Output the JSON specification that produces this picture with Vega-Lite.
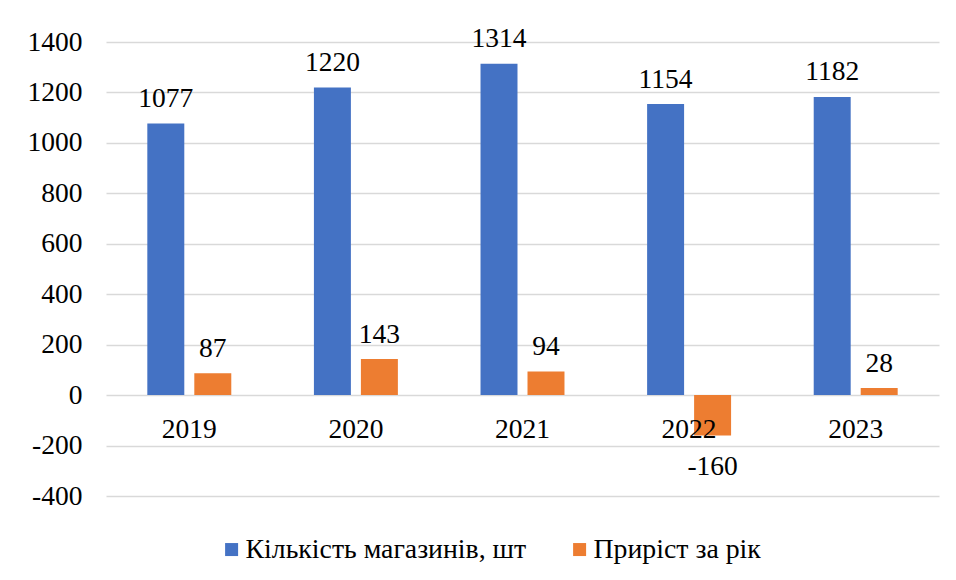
{
  "$schema": "https://vega.github.io/schema/vega-lite/v6.json",
  "autosize": "none",
  "width": 833,
  "height": 454,
  "padding": {"left": 106, "top": 42, "right": 17, "bottom": 84},
  "background": "white",
  "config": {
    "view": {"stroke": null},
    "font": "Liberation Serif",
    "axis": {"labelFont": "Liberation Serif"},
    "legend": {"labelFont": "Liberation Serif"},
    "text": {"font": "Liberation Serif", "fontSize": 27.5, "color": "black"}
  },
  "data": {
    "values": [
      {"year": "2019", "series": "Кількість магазинів, шт", "value": 1077},
      {"year": "2019", "series": "Приріст за рік", "value": 87},
      {"year": "2020", "series": "Кількість магазинів, шт", "value": 1220},
      {"year": "2020", "series": "Приріст за рік", "value": 143},
      {"year": "2021", "series": "Кількість магазинів, шт", "value": 1314},
      {"year": "2021", "series": "Приріст за рік", "value": 94},
      {"year": "2022", "series": "Кількість магазинів, шт", "value": 1154},
      {"year": "2022", "series": "Приріст за рік", "value": -160},
      {"year": "2023", "series": "Кількість магазинів, шт", "value": 1182},
      {"year": "2023", "series": "Приріст за рік", "value": 28}
    ]
  },
  "encoding": {
    "x": {
      "field": "year",
      "type": "nominal",
      "scale": {"paddingInner": 0.496, "paddingOuter": 0.248},
      "axis": null
    },
    "y": {
      "field": "value",
      "type": "quantitative",
      "scale": {"domain": [-400, 1400], "nice": false, "zero": false},
      "axis": {
        "values": [-400, -200, 0, 200, 400, 600, 800, 1000, 1200, 1400],
        "labelExpr": "'' + datum.value",
        "title": null,
        "domain": false,
        "ticks": false,
        "grid": true,
        "gridColor": "#d9d9d9",
        "gridWidth": 1.3,
        "labelFont": "Liberation Serif",
        "labelFontSize": 27.5,
        "labelColor": "black",
        "labelPadding": 24
      }
    }
  },
  "layer": [
    {
      "mark": {"type": "bar"},
      "encoding": {
        "xOffset": {
          "field": "series",
          "type": "nominal",
          "scale": {"paddingInner": 0.213, "domain": ["Кількість магазинів, шт", "Приріст за рік"]}
        },
        "color": {
          "field": "series",
          "type": "nominal",
          "scale": {
            "domain": ["Кількість магазинів, шт", "Приріст за рік"],
            "range": ["#4472C4", "#ED7D31"]
          },
          "legend": {
            "orient": "none",
            "legendX": 111.7,
            "legendY": 493.5,
            "direction": "horizontal",
            "title": null,
            "symbolType": "square",
            "symbolSize": 169,
            "symbolStrokeWidth": 0,
            "labelFont": "Liberation Serif",
            "labelFontSize": 27.8,
            "labelColor": "black",
            "labelOffset": 0,
            "columnPadding": 39,
            "labelLimit": 400
          }
        }
      }
    },
    {
      "transform": [{"filter": "datum.value >= 0"}],
      "mark": {"type": "text", "baseline": "alphabetic", "dy": -16.5, "font": "Liberation Serif"},
      "encoding": {
        "xOffset": {
          "field": "series",
          "type": "nominal",
          "scale": {"paddingInner": 0.213, "domain": ["Кількість магазинів, шт", "Приріст за рік"]}
        },
        "text": {"field": "value", "type": "nominal"}
      }
    },
    {
      "transform": [{"filter": "datum.value < 0"}],
      "mark": {"type": "text", "baseline": "alphabetic", "dy": 40, "font": "Liberation Serif"},
      "encoding": {
        "xOffset": {
          "field": "series",
          "type": "nominal",
          "scale": {"paddingInner": 0.213, "domain": ["Кількість магазинів, шт", "Приріст за рік"]}
        },
        "text": {"field": "value", "type": "nominal"}
      }
    },
    {
      "transform": [{"filter": "datum.series === 'Кількість магазинів, шт'"}],
      "mark": {"type": "text", "baseline": "alphabetic", "dy": 43, "font": "Liberation Serif"},
      "encoding": {
        "y": {"datum": 0},
        "text": {"field": "year", "type": "nominal"}
      }
    }
  ]
}
